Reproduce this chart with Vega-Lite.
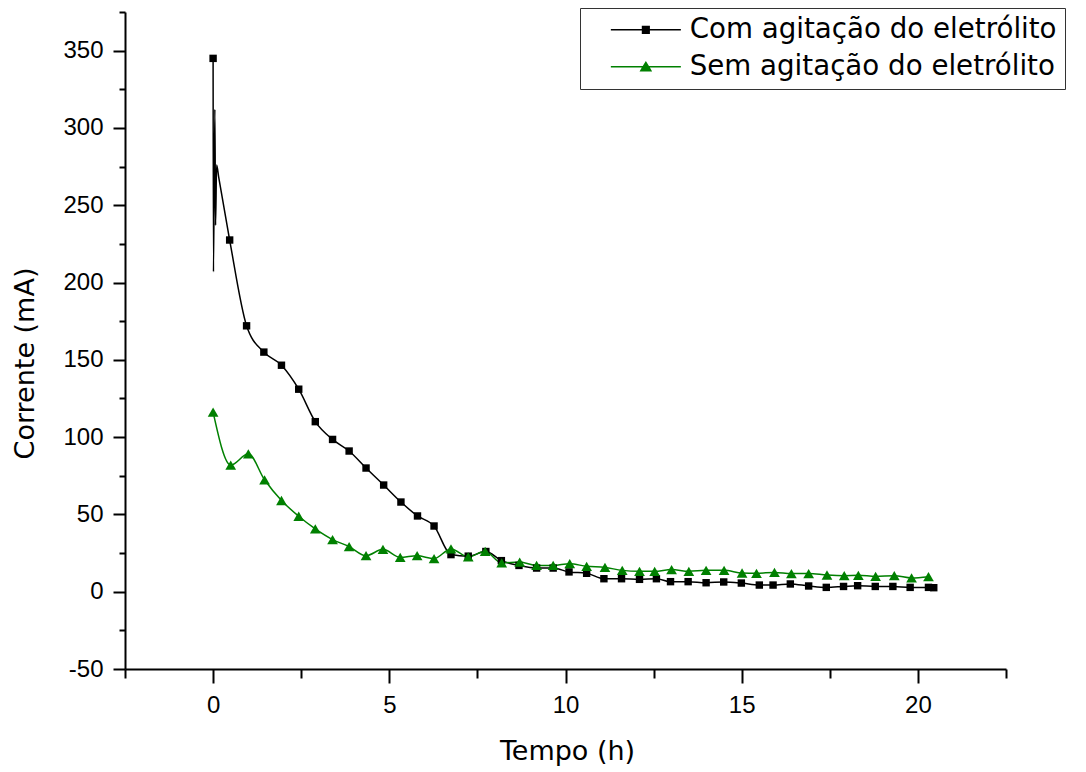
{
  "$schema": "https://vega.github.io/schema/vega-lite/v6.json",
  "width": 881,
  "height": 657,
  "autosize": {"type": "none"},
  "padding": {"left": 125, "top": 12, "right": 80, "bottom": 103},
  "background": "white",
  "config": {"view": {"stroke": null}, "axis": {"grid": false}},
  "data": {"values": [
    {"serie": "Com agitação do eletrólito", "t": 0, "I": 345},
    {"serie": "Com agitação do eletrólito", "t": 0.01, "I": 207},
    {"serie": "Com agitação do eletrólito", "t": 0.05, "I": 312},
    {"serie": "Com agitação do eletrólito", "t": 0.07, "I": 237},
    {"serie": "Com agitação do eletrólito", "t": 0.1, "I": 276},
    {"serie": "Com agitação do eletrólito", "t": 0.16, "I": 268},
    {"serie": "Com agitação do eletrólito", "t": 0.47, "I": 227.5},
    {"serie": "Com agitação do eletrólito", "t": 0.95, "I": 172},
    {"serie": "Com agitação do eletrólito", "t": 1.44, "I": 155},
    {"serie": "Com agitação do eletrólito", "t": 1.94, "I": 146.5},
    {"serie": "Com agitação do eletrólito", "t": 2.43, "I": 131},
    {"serie": "Com agitação do eletrólito", "t": 2.9, "I": 110},
    {"serie": "Com agitação do eletrólito", "t": 3.39, "I": 98.5},
    {"serie": "Com agitação do eletrólito", "t": 3.86, "I": 91},
    {"serie": "Com agitação do eletrólito", "t": 4.34, "I": 80},
    {"serie": "Com agitação do eletrólito", "t": 4.84, "I": 69},
    {"serie": "Com agitação do eletrólito", "t": 5.33, "I": 58},
    {"serie": "Com agitação do eletrólito", "t": 5.8, "I": 49},
    {"serie": "Com agitação do eletrólito", "t": 6.27, "I": 42.5},
    {"serie": "Com agitação do eletrólito", "t": 6.75, "I": 24},
    {"serie": "Com agitação do eletrólito", "t": 7.24, "I": 23},
    {"serie": "Com agitação do eletrólito", "t": 7.74, "I": 26},
    {"serie": "Com agitação do eletrólito", "t": 8.18, "I": 20.1},
    {"serie": "Com agitação do eletrólito", "t": 8.68, "I": 17},
    {"serie": "Com agitação do eletrólito", "t": 9.18, "I": 15.3},
    {"serie": "Com agitação do eletrólito", "t": 9.65, "I": 15.3},
    {"serie": "Com agitação do eletrólito", "t": 10.1, "I": 12.8},
    {"serie": "Com agitação do eletrólito", "t": 10.6, "I": 11.9},
    {"serie": "Com agitação do eletrólito", "t": 11.09, "I": 8.4},
    {"serie": "Com agitação do eletrólito", "t": 11.59, "I": 8.4},
    {"serie": "Com agitação do eletrólito", "t": 12.1, "I": 8.0},
    {"serie": "Com agitação do eletrólito", "t": 12.58, "I": 8.4},
    {"serie": "Com agitação do eletrólito", "t": 12.98, "I": 6.5},
    {"serie": "Com agitação do eletrólito", "t": 13.48, "I": 6.5},
    {"serie": "Com agitação do eletrólito", "t": 13.99, "I": 5.8},
    {"serie": "Com agitação do eletrólito", "t": 14.49, "I": 6.3},
    {"serie": "Com agitação do eletrólito", "t": 14.99, "I": 5.6},
    {"serie": "Com agitação do eletrólito", "t": 15.5, "I": 4.3},
    {"serie": "Com agitação do eletrólito", "t": 15.89, "I": 4.3},
    {"serie": "Com agitação do eletrólito", "t": 16.38, "I": 5.0},
    {"serie": "Com agitação do eletrólito", "t": 16.9, "I": 3.7},
    {"serie": "Com agitação do eletrólito", "t": 17.4, "I": 2.8},
    {"serie": "Com agitação do eletrólito", "t": 17.89, "I": 3.4},
    {"serie": "Com agitação do eletrólito", "t": 18.29, "I": 3.9},
    {"serie": "Com agitação do eletrólito", "t": 18.79, "I": 3.4},
    {"serie": "Com agitação do eletrólito", "t": 19.29, "I": 3.4},
    {"serie": "Com agitação do eletrólito", "t": 19.78, "I": 2.8},
    {"serie": "Com agitação do eletrólito", "t": 20.3, "I": 2.8},
    {"serie": "Com agitação do eletrólito", "t": 20.45, "I": 2.6},
    {"serie": "Sem agitação do eletrólito", "t": 0, "I": 116.2},
    {"serie": "Sem agitação do eletrólito", "t": 0.5, "I": 81.9},
    {"serie": "Sem agitação do eletrólito", "t": 1.0, "I": 89.2},
    {"serie": "Sem agitação do eletrólito", "t": 1.46, "I": 72.4},
    {"serie": "Sem agitação do eletrólito", "t": 1.94, "I": 59.0},
    {"serie": "Sem agitação do eletrólito", "t": 2.43, "I": 48.8},
    {"serie": "Sem agitação do eletrólito", "t": 2.9, "I": 40.6},
    {"serie": "Sem agitação do eletrólito", "t": 3.39, "I": 33.7},
    {"serie": "Sem agitação do eletrólito", "t": 3.86, "I": 29.2},
    {"serie": "Sem agitação do eletrólito", "t": 4.34, "I": 23.3},
    {"serie": "Sem agitação do eletrólito", "t": 4.82, "I": 27.4},
    {"serie": "Sem agitação do eletrólito", "t": 5.31, "I": 22.2},
    {"serie": "Sem agitação do eletrólito", "t": 5.79, "I": 23.3},
    {"serie": "Sem agitação do eletrólito", "t": 6.27, "I": 21.4},
    {"serie": "Sem agitação do eletrólito", "t": 6.75, "I": 27.7},
    {"serie": "Sem agitação do eletrólito", "t": 7.24, "I": 22.5},
    {"serie": "Sem agitação do eletrólito", "t": 7.72, "I": 26.1},
    {"serie": "Sem agitação do eletrólito", "t": 8.19, "I": 18.6},
    {"serie": "Sem agitação do eletrólito", "t": 8.7, "I": 19.2},
    {"serie": "Sem agitação do eletrólito", "t": 9.18, "I": 17.0},
    {"serie": "Sem agitação do eletrólito", "t": 9.65, "I": 17.0},
    {"serie": "Sem agitação do eletrólito", "t": 10.12, "I": 18.1},
    {"serie": "Sem agitação do eletrólito", "t": 10.6, "I": 16.4},
    {"serie": "Sem agitação do eletrólito", "t": 11.12, "I": 15.7},
    {"serie": "Sem agitação do eletrólito", "t": 11.61, "I": 13.8},
    {"serie": "Sem agitação do eletrólito", "t": 12.1, "I": 13.2},
    {"serie": "Sem agitação do eletrólito", "t": 12.53, "I": 13.2},
    {"serie": "Sem agitação do eletrólito", "t": 13.01, "I": 14.3},
    {"serie": "Sem agitação do eletrólito", "t": 13.5, "I": 13.2},
    {"serie": "Sem agitação do eletrólito", "t": 13.99, "I": 13.8},
    {"serie": "Sem agitação do eletrólito", "t": 14.5, "I": 13.8},
    {"serie": "Sem agitação do eletrólito", "t": 15.01, "I": 12.1},
    {"serie": "Sem agitação do eletrólito", "t": 15.42, "I": 11.9},
    {"serie": "Sem agitação do eletrólito", "t": 15.93, "I": 12.5},
    {"serie": "Sem agitação do eletrólito", "t": 16.41, "I": 11.7},
    {"serie": "Sem agitação do eletrólito", "t": 16.9, "I": 11.7},
    {"serie": "Sem agitação do eletrólito", "t": 17.42, "I": 10.8},
    {"serie": "Sem agitação do eletrólito", "t": 17.91, "I": 10.4},
    {"serie": "Sem agitação do eletrólito", "t": 18.31, "I": 10.6},
    {"serie": "Sem agitação do eletrólito", "t": 18.8, "I": 9.9},
    {"serie": "Sem agitação do eletrólito", "t": 19.33, "I": 10.4},
    {"serie": "Sem agitação do eletrólito", "t": 19.82, "I": 8.9},
    {"serie": "Sem agitação do eletrólito", "t": 20.3, "I": 9.7}
  ]},
  "resolve": {"axis": {"x": "independent", "y": "independent"}},
  "layer": [
    {
      "mark": {"type": "line", "interpolate": "monotone", "strokeWidth": 1.5},
      "encoding": {
        "x": {
          "field": "t", "type": "quantitative",
          "scale": {"domain": [-2.5, 22.5], "nice": false, "zero": false},
          "axis": {
            "orient": "bottom",
            "values": [0, 5, 10, 15, 20],
            "labelExpr": "'' + datum.value",
            "tickSize": 14, "tickWidth": 2, "tickColor": "black",
            "domainWidth": 2, "domainColor": "black",
            "labelFont": "Liberation Sans", "labelFontSize": 24, "labelColor": "black",
            "labelPadding": 10,
            "title": "Tempo (h)",
            "titleFont": "DejaVu Sans", "titleFontSize": 27, "titleFontWeight": "normal", "titleColor": "black",
            "titleBaseline": "middle", "titleX": 442, "titleY": 82
          }
        },
        "y": {
          "field": "I", "type": "quantitative",
          "scale": {"domain": [-50, 375], "nice": false, "zero": false},
          "axis": {
            "orient": "left",
            "values": [-50, 0, 50, 100, 150, 200, 250, 300, 350],
            "labelExpr": "'' + datum.value",
            "tickSize": 12, "tickWidth": 2, "tickColor": "black",
            "domainWidth": 2, "domainColor": "black",
            "labelFont": "Liberation Sans", "labelFontSize": 24, "labelColor": "black",
            "labelPadding": 10,
            "title": "Corrente (mA)",
            "titleFont": "DejaVu Sans", "titleFontSize": 27, "titleFontWeight": "normal", "titleColor": "black",
            "titleAngle": 270, "titleBaseline": "middle", "titleAlign": "center",
            "titleX": -100, "titleY": 351
          }
        },
        "color": {
          "field": "serie", "type": "nominal",
          "scale": {"domain": ["Com agitação do eletrólito", "Sem agitação do eletrólito"], "range": ["#000000", "#008000"]},
          "legend": {
            "orient": "none", "legendX": 455, "legendY": -4,
            "title": null,
            "strokeColor": "#333333", "fillColor": "white", "padding": 8,
            "labelFont": "DejaVu Sans", "labelFontSize": 27.7, "labelColor": "black", "labelLimit": 0,
            "symbolSize": 196, "symbolStrokeWidth": 0, "symbolOffset": 44, "labelOffset": 30, "rowPadding": 8,
            "encode": {
              "symbols": {
                "update": {
                  "shape": {"signal": "datum.value == 'Com agitação do eletrólito' ? 'M-5,-0.11L-0.58,-0.11L-0.58,-0.58L0.58,-0.58L0.58,-0.11L5,-0.11L5,0.11L0.58,0.11L0.58,0.58L-0.58,0.58L-0.58,0.11L-5,0.11Z' : 'M-5,-0.11L-0.444,-0.11L0,-0.85L0.444,-0.11L5,-0.11L5,0.11L0.576,0.11L0.9,0.65L-0.9,0.65L-0.576,0.11L-5,0.11Z'"},
                  "fill": {"scale": "color", "field": "value"},
                  "fillOpacity": {"value": 1},
                  "strokeWidth": {"value": 0},
                  "opacity": {"value": 1}
                }
              }
            }
          }
        }
      }
    },
    {
      "transform": [
        {"filter": "datum.serie == 'Com agitação do eletrólito' && (datum.t == 0 || datum.t > 0.3)"}
      ],
      "mark": {"type": "point", "filled": true, "opacity": 1, "strokeWidth": 0, "shape": "square", "size": 55, "color": "#000000"},
      "encoding": {
        "x": {
          "field": "t", "type": "quantitative",
          "axis": {
            "orient": "bottom",
            "values": [-2.5, 2.5, 7.5, 12.5, 17.5, 22.5],
            "labels": false, "domain": false, "title": null,
            "tickSize": 9, "tickWidth": 2, "tickColor": "black"
          }
        },
        "y": {
          "field": "I", "type": "quantitative",
          "axis": {
            "orient": "left",
            "values": [-25, 25, 75, 125, 175, 225, 275, 325, 375],
            "labels": false, "domain": false, "title": null,
            "tickSize": 6, "tickWidth": 2, "tickColor": "black"
          }
        }
      }
    },
    {
      "transform": [
        {"filter": "datum.serie == 'Sem agitação do eletrólito'"}
      ],
      "mark": {"type": "point", "filled": true, "opacity": 1, "strokeWidth": 0, "shape": "triangle-up", "size": 115, "color": "#008000"},
      "encoding": {
        "x": {"field": "t", "type": "quantitative", "axis": null},
        "y": {"field": "I", "type": "quantitative", "axis": null}
      }
    }
  ]
}
